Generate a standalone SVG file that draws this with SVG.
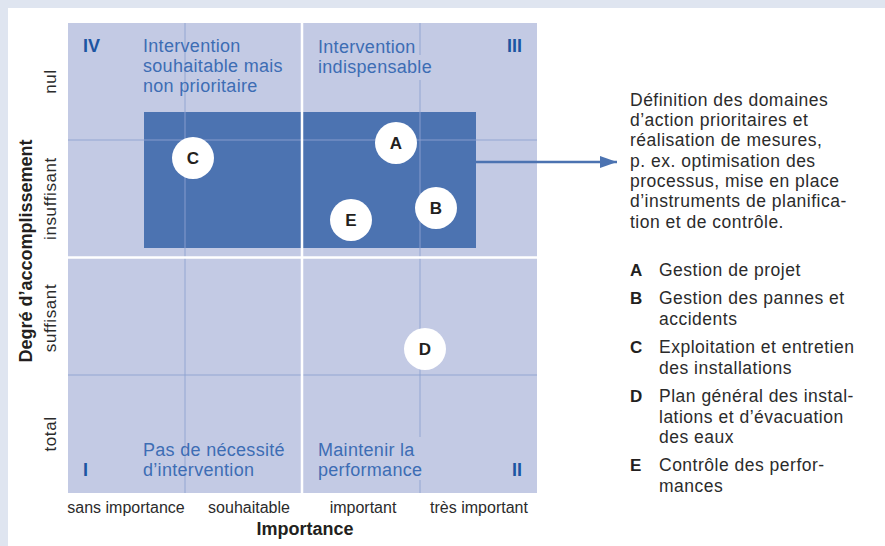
<svg xmlns="http://www.w3.org/2000/svg" width="885" height="546" viewBox="0 0 885 546">
<style>
text{font-family:"Liberation Sans",Arial,Helvetica,sans-serif;}
.q{font-size:18px;fill:#3d6db4;letter-spacing:0.3px;}
.rn{font-size:18px;font-weight:bold;fill:#1d55a2;}
.grid{stroke:#8da2d0;stroke-opacity:0.6;stroke-width:1.5;fill:none;}
.wl{stroke:#ffffff;stroke-width:2.5;}
.dot{fill:#ffffff;}
.dl{font-size:17px;font-weight:bold;fill:#231f20;text-anchor:middle;}
.body{font-size:17.5px;fill:#2b2b2b;letter-spacing:0.5px;}
.lk{font-size:17px;font-weight:bold;fill:#231f20;}
.ax{font-size:16px;fill:#2b2b2b;text-anchor:middle;}
.ay{font-size:17px;fill:#2b2b2b;text-anchor:middle;letter-spacing:0.6px;}
.at{font-size:18px;font-weight:bold;fill:#231f20;text-anchor:middle;}
</style>
<defs>
<marker id="ah" viewBox="0 0 17 12" markerWidth="17" markerHeight="12" refX="17" refY="6" orient="auto" markerUnits="userSpaceOnUse">
<path d="M0,0 L17,6 L0,12 Z" fill="#4c73b1"/>
</marker>
</defs>
<rect x="0" y="0" width="885" height="546" fill="#dfe5f0"/>
<rect x="8" y="8" width="877" height="538" fill="#ffffff"/>

<g id="chart">
<rect x="68" y="23" width="469" height="470" fill="#c3cae4"/>
<rect id="priority-zone" x="144" y="112" width="332" height="136" fill="#4c73b1"/>
<g class="grid">
<line x1="185" y1="23" x2="185" y2="493"/>
<line x1="420" y1="23" x2="420" y2="55"/>
<line x1="420" y1="80" x2="420" y2="437"/>
<line x1="420" y1="480" x2="420" y2="493"/>
<line x1="68" y1="140" x2="537" y2="140"/>
<line x1="68" y1="375" x2="537" y2="375"/>
</g>
<line class="wl" x1="302" y1="23" x2="302" y2="493"/>
<line class="wl" x1="68" y1="257.5" x2="537" y2="257.5"/>
</g>

<g id="quadrant-IV">
<text class="rn" x="83" y="52">IV</text>
<text class="q" x="143" y="52">Intervention</text>
<text class="q" x="143" y="72">souhaitable mais</text>
<text class="q" x="143" y="92">non prioritaire</text>
</g>
<g id="quadrant-III">
<text class="rn" x="522" y="52" text-anchor="end">III</text>
<text class="q" x="318" y="53">Intervention</text>
<text class="q" x="318" y="73">indispensable</text>
</g>
<g id="quadrant-I">
<text class="rn" x="83" y="476">I</text>
<text class="q" x="143" y="456">Pas de nécessité</text>
<text class="q" x="143" y="476">d’intervention</text>
</g>
<g id="quadrant-II">
<text class="rn" x="522" y="476" text-anchor="end">II</text>
<text class="q" x="318" y="456">Maintenir la</text>
<text class="q" x="318" y="476">performance</text>
</g>

<g id="node-C"><circle class="dot" cx="193" cy="158" r="21"/><text class="dl" x="193" y="164">C</text></g>
<g id="node-A"><circle class="dot" cx="396" cy="143" r="21"/><text class="dl" x="396" y="149">A</text></g>
<g id="node-B"><circle class="dot" cx="436" cy="208" r="21"/><text class="dl" x="436" y="214">B</text></g>
<g id="node-E"><circle class="dot" cx="351" cy="220" r="21"/><text class="dl" x="351" y="226">E</text></g>
<g id="node-D"><circle class="dot" cx="425" cy="349" r="21"/><text class="dl" x="425" y="355">D</text></g>

<g id="connectors">
<line x1="476" y1="162" x2="617" y2="162" stroke="#4c73b1" stroke-width="2.4" marker-end="url(#ah)"/>
</g>

<g id="description">
<text class="body" x="630" y="105.5">Définition des domaines</text>
<text class="body" x="630" y="126">d’action prioritaires et</text>
<text class="body" x="630" y="146.3">réalisation de mesures,</text>
<text class="body" x="630" y="166.6">p. ex. optimisation des</text>
<text class="body" x="630" y="186.9">processus, mise en place</text>
<text class="body" x="630" y="207.2">d’instruments de planifica-</text>
<text class="body" x="630" y="227.5">tion et de contrôle.</text>
</g>

<g id="legend">
<text class="lk" x="630" y="276">A</text>
<text class="body" x="659" y="276">Gestion de projet</text>
<text class="lk" x="630" y="303.5">B</text>
<text class="body" x="659" y="303.5">Gestion des pannes et</text>
<text class="body" x="659" y="325">accidents</text>
<text class="lk" x="630" y="353">C</text>
<text class="body" x="659" y="353">Exploitation et entretien</text>
<text class="body" x="659" y="374">des installations</text>
<text class="lk" x="630" y="402">D</text>
<text class="body" x="659" y="402">Plan général des instal-</text>
<text class="body" x="659" y="422.5">lations et d’évacuation</text>
<text class="body" x="659" y="443">des eaux</text>
<text class="lk" x="630" y="471">E</text>
<text class="body" x="659" y="471">Contrôle des perfor-</text>
<text class="body" x="659" y="492">mances</text>
</g>

<g id="x-axis">
<text class="ax" x="126" y="513">sans importance</text>
<text class="ax" x="249" y="513">souhaitable</text>
<text class="ax" x="363" y="513">important</text>
<text class="ax" x="479" y="513">très important</text>
<text class="at" x="305" y="535">Importance</text>
</g>

<g id="y-axis">
<text class="ay" transform="translate(56,81.5) rotate(-90)">nul</text>
<text class="ay" transform="translate(56,198.5) rotate(-90)">insuffisant</text>
<text class="ay" transform="translate(56,318) rotate(-90)">suffisant</text>
<text class="ay" transform="translate(56,434) rotate(-90)">total</text>
<text class="at" transform="translate(31.5,251) rotate(-90)">Degré d’accomplissement</text>
</g>
</svg>
